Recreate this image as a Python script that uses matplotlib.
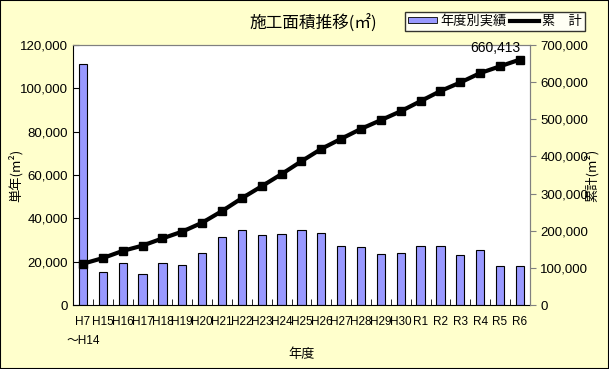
import numpy as np
import matplotlib
matplotlib.use("Agg")
import matplotlib.pyplot as plt
from matplotlib.patches import Rectangle, Patch
from matplotlib.lines import Line2D
from matplotlib.ticker import FuncFormatter, FixedLocator

plt.rcParams['font.family'] = ['Liberation Sans', 'Noto Sans CJK JP', 'DejaVu Sans']
JP = ['Noto Sans CJK JP', 'DejaVu Sans']

# --- データ ---
nendo = ["H7", "H15", "H16", "H17", "H18", "H19", "H20", "H21", "H22", "H23", "H24", "H25",
         "H26", "H27", "H28", "H29", "H30", "R1", "R2", "R3", "R4", "R5", "R6"]
nendo_sub = "～H14"   # H7 の下段
tannen = [111100, 15200, 19300, 14300, 19300, 18400, 23900, 31300, 34600, 32200, 32700, 34600,
          33200, 27200, 26700, 23500, 23900, 27200, 27200, 23000, 25300, 18200, 18113]
ruikei = np.cumsum(tannen)

fig = plt.figure(figsize=(6.09, 3.69), dpi=100, facecolor="#FFFFCC")
ax = fig.add_axes([0.12, 0.1734, 0.750, 0.705])
ax.set_facecolor("white")
ax2 = ax.twinx()

x = np.arange(len(nendo))
ax.bar(x, tannen, width=0.42, color="#9999FF", edgecolor="black", linewidth=0.8, zorder=2)
ax2.plot(x, ruikei, color="black", linewidth=3, marker="s", markersize=6, zorder=3)

ax.set_xlim(-0.5, len(nendo) - 0.5)
ax.set_ylim(0, 120000)
ax2.set_ylim(0, 700000)
ax.set_yticks(np.arange(0, 120001, 20000))
ax2.set_yticks(np.arange(0, 700001, 100000))
fmt = FuncFormatter(lambda v, p: f"{int(v):,}")
ax.yaxis.set_major_formatter(fmt)
ax2.yaxis.set_major_formatter(fmt)

ax.set_xticks(x)
ax.set_xticklabels(nendo, fontsize=8.5)
ax.xaxis.set_minor_locator(FixedLocator(np.arange(-0.5, len(nendo), 1)))
ax.tick_params(axis="x", which="major", length=0, pad=8)
ax.tick_params(axis="x", which="minor", direction="in", length=4)
ax.tick_params(axis="y", direction="in", length=4, labelsize=9.5)
ax2.tick_params(axis="y", direction="out", length=4, labelsize=9.5, color="#808080")

ax.text(x[0], -0.115, nendo_sub, transform=ax.get_xaxis_transform(), ha="center", va="top",
        fontsize=8.5)

for sp in ["top", "right"]:
    ax.spines[sp].set_color("#808080")
    ax2.spines[sp].set_color("#808080")
ax2.spines["left"].set_visible(False)
ax2.spines["bottom"].set_visible(False)

ax.set_ylabel("単年(m²)", family=JP, fontsize=9.5, labelpad=-2)
ax2.set_ylabel("累計(m²)", family=JP, fontsize=9.5, labelpad=-3)
ax.set_xlabel("年度", family=JP, fontsize=9.5)
ax.xaxis.set_label_coords(0.5, -0.165)
ax.xaxis.label.set_va("top")

ax2.annotate(f"{ruikei[-1]:,}", (x[-1], ruikei[-1]), xytext=(0, 3), textcoords="offset points",
             ha="right", va="bottom", fontsize=10)

fig.text(0.515, 0.935, "施工面積推移(㎡)", family=JP, fontsize=12, ha="center", va="center")

# 凡例
handles = [Patch(facecolor="#9999FF", edgecolor="black", linewidth=0.6),
           Line2D([0], [0], color="black", linewidth=3)]
leg = fig.legend(handles, ["年度別実績", "累　計"], loc="upper left",
                 bbox_to_anchor=(0.665, 0.968), ncol=2, frameon=True, fancybox=False,
                 edgecolor="black", prop={"family": JP, "size": 9.5},
                 handlelength=2.2, handleheight=0.35, handletextpad=0.2, columnspacing=0.3,
                 borderpad=0.25, borderaxespad=0)
leg.get_frame().set_linewidth(1)

fig.patches.append(Rectangle((0, 0), 1, 1, transform=fig.transFigure, fill=False,
                             edgecolor="black", linewidth=1.5))

fig.savefig("out.png", dpi=100, facecolor=fig.get_facecolor())
